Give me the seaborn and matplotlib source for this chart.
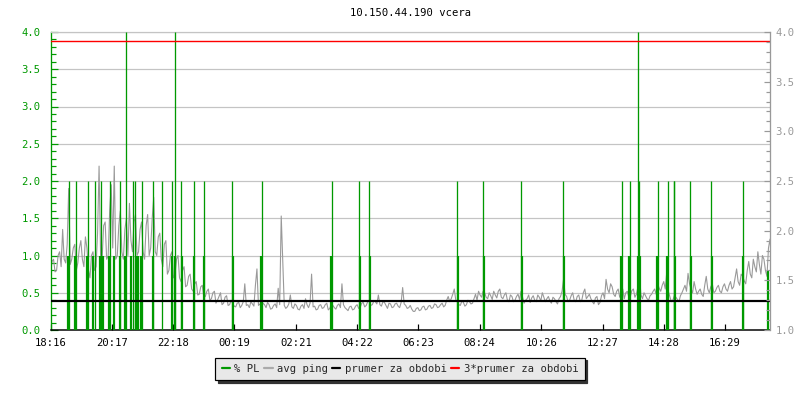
import numpy as np
import pandas as pd
import matplotlib
matplotlib.use("Agg")
import matplotlib.pyplot as plt
from matplotlib.lines import Line2D
from matplotlib.ticker import MultipleLocator
import seaborn as sns

title = "10.150.44.190 vcera"
tick_labels = ["18:16", "20:17", "22:18", "00:19", "02:21", "04:22",
               "06:23", "08:24", "10:26", "12:27", "14:28", "16:29"]
span_minutes = 1422
ping_step_minutes = 6

# avg ping read at the start of each 6-minute slot
ping = [
    0.75, 0.95, 0.80, 1.05, 1.35, 0.90, 1.90, 0.95, 1.15, 0.90,
    1.20, 0.85, 1.10, 0.70, 1.05, 0.85, 2.20, 0.95, 1.45, 1.00,
    1.95, 2.20, 1.00, 1.60, 0.95, 1.50, 1.70, 1.05, 1.55, 1.05,
    1.45, 0.95, 1.55, 1.10, 1.78, 1.00, 1.30, 0.85, 1.20, 0.80,
    1.05, 0.75, 1.00, 0.65, 0.85, 0.60, 0.75, 0.52, 0.65, 0.48,
    0.60, 0.45, 0.55, 0.42, 0.52, 0.40, 0.50, 0.36, 0.46, 0.34,
    0.36, 0.31, 0.37, 0.33, 0.62, 0.34, 0.38, 0.32, 0.82, 0.35,
    0.36, 0.30, 0.34, 0.29, 0.35, 0.56, 1.53, 0.33, 0.31, 0.47,
    0.29, 0.33, 0.27, 0.34, 0.42, 0.30, 0.75, 0.32, 0.28, 0.34,
    0.30, 0.36, 0.29, 0.33, 0.28, 0.35, 0.62, 0.30, 0.26, 0.32,
    0.28, 0.34, 0.30, 0.37, 0.33, 0.40, 0.34, 0.38, 0.47, 0.32,
    0.37, 0.29, 0.35, 0.31, 0.36, 0.30, 0.57, 0.33, 0.30,
    0.28, 0.25, 0.30, 0.27, 0.32, 0.28, 0.33, 0.30, 0.34, 0.31,
    0.36, 0.33, 0.45, 0.42, 0.55, 0.38, 0.33, 0.37, 0.34, 0.38,
    0.36, 0.48, 0.52, 0.44, 0.50, 0.42, 0.46, 0.52, 0.43, 0.55,
    0.42, 0.50, 0.38, 0.45, 0.40, 0.48, 0.52, 0.36, 0.42, 0.37,
    0.46, 0.38, 0.44, 0.50, 0.38, 0.45, 0.36, 0.42, 0.35, 0.45,
    0.68, 0.45, 0.40, 0.50, 0.38, 0.47, 0.40, 0.55, 0.45,
    0.42, 0.35, 0.45, 0.37, 0.50, 0.68, 0.50, 0.58, 0.45, 0.55,
    0.48, 0.42, 0.52, 0.45, 0.55, 0.48, 0.72, 0.42, 0.46, 0.40,
    0.48, 0.55, 0.62, 0.52, 0.65, 0.78, 0.45, 0.40, 0.44, 0.38,
    0.50, 0.60, 0.76, 0.55, 0.65, 0.48, 0.55, 0.45, 0.72, 0.50,
    0.62, 0.52, 0.60, 0.50, 0.62, 0.52, 0.65, 0.58, 0.82, 0.60,
    0.72, 0.62, 0.92, 0.70, 0.85, 1.05, 0.75, 0.95, 0.72, 1.22,
]

# avg ping read at the middle of each 6-minute slot
ping_mid = [
    0.92, 0.78, 1.00, 0.85, 0.95, 1.15, 0.88, 1.10, 0.80, 1.10,
    0.95, 1.25, 0.80, 1.00, 0.80, 1.30, 1.00, 1.40, 0.95, 1.60,
    1.10, 0.95, 1.40, 1.05, 1.35, 1.00, 1.20, 1.45, 1.00, 1.35,
    1.05, 1.40, 1.00, 1.50, 1.05, 1.25, 0.95, 1.15, 0.75, 1.00,
    0.70, 0.95, 0.70, 0.80, 0.58, 0.72, 0.55, 0.62, 0.47, 0.58,
    0.44, 0.52, 0.40, 0.50, 0.36, 0.45, 0.34, 0.44, 0.33, 0.40,
    0.32, 0.36, 0.30, 0.38, 0.33, 0.30, 0.35, 0.60, 0.33, 0.30,
    0.34, 0.37, 0.28, 0.33, 0.30, 0.34, 0.92, 0.29, 0.35, 0.31,
    0.35, 0.28, 0.32, 0.29, 0.34, 0.36, 0.31, 0.27, 0.33, 0.29,
    0.34, 0.27, 0.35, 0.30, 0.33, 0.30, 0.34, 0.28, 0.31, 0.27,
    0.32, 0.29, 0.36, 0.31, 0.38, 0.33, 0.39, 0.35, 0.34, 0.38,
    0.33, 0.36, 0.30, 0.35, 0.32, 0.37, 0.35, 0.29, 0.33,
    0.25, 0.29, 0.26, 0.31, 0.27, 0.32, 0.29, 0.35, 0.30, 0.34,
    0.31, 0.40, 0.38, 0.48, 0.40, 0.34, 0.39, 0.32, 0.40, 0.35,
    0.42, 0.40, 0.47, 0.52, 0.44, 0.50, 0.41, 0.47, 0.52, 0.44,
    0.47, 0.40, 0.47, 0.38, 0.45, 0.41, 0.44, 0.40, 0.47, 0.43,
    0.40, 0.47, 0.39, 0.44, 0.42, 0.39, 0.44, 0.38, 0.42, 0.52,
    0.48, 0.38, 0.46, 0.40, 0.45, 0.38, 0.50, 0.42, 0.48,
    0.38, 0.43, 0.34, 0.46, 0.42, 0.55, 0.62, 0.48, 0.52, 0.44,
    0.55, 0.50, 0.44, 0.53, 0.44, 0.58, 0.47, 0.50, 0.42, 0.46,
    0.52, 0.48, 0.56, 0.60, 0.55, 0.52, 0.38, 0.46, 0.41, 0.46,
    0.55, 0.52, 0.62, 0.50, 0.55, 0.52, 0.48, 0.60, 0.55, 0.58,
    0.50, 0.57, 0.52, 0.58, 0.55, 0.60, 0.55, 0.70, 0.65, 0.75,
    0.66, 0.80, 0.75, 0.95, 0.78, 0.88, 1.00, 0.80, 1.10, 0.95,
]

pl_minutes = [
    33.6, 35.6, 49.4, 51.0, 72.1, 73.5, 84.9, 88.5, 97.8, 100.3,
    102.3, 104.7, 114.9, 117.5, 124.8, 136.7, 137.9, 148.1, 149.7, 159.6,
    163.5, 167.5, 168.5, 172.8, 178.7, 180.1, 201.8, 203.4, 219.6, 239.4,
    240.6, 245.3, 246.5, 258.3, 259.3, 282.8, 284.4, 303.2, 304.2, 359.5,
    361.0, 416.7, 417.7, 555.0, 556.0, 610.3, 611.3, 630.0, 631.0, 803.8,
    804.8, 855.2, 856.2, 930.2, 931.2, 1013.2, 1014.2, 1128.3, 1129.3, 1143.5,
    1144.5, 1160.3, 1161.3, 1163.3, 1164.3, 1199.4, 1200.4, 1218.6, 1219.6, 1231.4,
    1232.8, 1234.0, 1264.0, 1265.0, 1305.5, 1306.5, 1367.7, 1368.7, 1419.0,
]
pl_values = [
    1.0, 2.0, 1.0, 2.0, 1.0, 2.0, 1.0, 2.0, 1.0, 2.0,
    1.0, 1.0, 1.0, 2.0, 1.0, 1.0, 2.0, 1.0, 4.0, 1.0,
    2.0, 2.0, 1.0, 1.0, 1.0, 2.0, 2.0, 1.0, 2.0, 1.0,
    2.0, 1.0, 4.0, 2.0, 1.0, 2.0, 1.0, 2.0, 1.0, 2.0,
    1.0, 1.0, 2.0, 1.0, 2.0, 2.0, 1.0, 2.0, 1.0, 2.0,
    1.0, 2.0, 1.0, 2.0, 1.0, 2.0, 1.0, 1.0, 2.0, 1.0,
    2.0, 1.0, 4.0, 2.0, 1.0, 1.0, 2.0, 1.0, 2.0, 2.0,
    2.0, 1.0, 2.0, 1.0, 2.0, 1.0, 1.0, 2.0, 0.8,
]

mean_value = 0.39
mean3_value = 3.88
left_ticks = [0.0, 0.5, 1.0, 1.5, 2.0, 2.5, 3.0, 3.5, 4.0]
right_ticks = [1.0, 1.5, 2.0, 2.5, 3.0, 3.5, 4.0]
legend_labels = ["% PL", "avg ping", "prumer za obdobi", "3*prumer za obdobi"]

GREEN = "#009900"
GRAY = "#999999"
GRID = "#c4c4c4"
PX = 0.72  # one pixel in points at 100 dpi
FS = 7.6

sns.set_theme(style="white")
plt.rcParams["font.family"] = ["DejaVu Sans Mono", "DejaVu Sans"]


def to_minutes(label):
    h, m = map(int, label.split(":"))
    h0, m0 = map(int, tick_labels[0].split(":"))
    return (h * 60 + m - (h0 * 60 + m0)) % 1440


tick_minutes = [to_minutes(t) for t in tick_labels]

slot = np.arange(len(ping)) * ping_step_minutes
ping_df = pd.concat([
    pd.DataFrame({"minute": slot, "ping": ping}),
    pd.DataFrame({"minute": slot + ping_step_minutes / 2, "ping": ping_mid}),
]).sort_values("minute").reset_index(drop=True)
pl_df = pd.DataFrame({"minute": pl_minutes, "pl": pl_values})

fig = plt.figure(figsize=(8, 4), dpi=100)
ax = fig.add_axes([50.5 / 800, 70 / 400, 719.5 / 800, 298 / 400])
ax.set_facecolor("white")

ax.set_ylim(0, 4)
ax.set_xlim(0, span_minutes)
for v in left_ticks[1:]:
    ax.axhline(v, color=GRID, lw=PX * 1.2, zorder=0.5, snap=True)

# avg ping
sns.lineplot(data=ping_df, x="minute", y="ping", ax=ax, color=GRAY,
             linewidth=PX * 1.1, estimator=None, sort=False, legend=False,
             zorder=2)

# packet loss spikes
thin = pl_df[pl_df["pl"] > 1.0]
thick = pl_df[pl_df["pl"] <= 1.0]
ax.vlines(thin["minute"], 0, thin["pl"], color=GREEN, lw=PX * 1.3,
          zorder=3, snap=True)
ax.vlines(thick["minute"], 0, thick["pl"], color=GREEN, lw=PX * 2.2,
          zorder=3, snap=True)

# mean lines
ax.axhline(mean_value, color="black", lw=PX * 2.2, zorder=4, snap=True)
ax.axhline(mean3_value, color="#ff0000", lw=PX * 1.4, zorder=4, snap=True)

ax.set_xlabel("")
ax.set_ylabel("")
ax.set_xticks(tick_minutes)
ax.set_xticklabels(tick_labels, fontsize=FS, color="black")
ax.tick_params(axis="x", direction="in", length=4.5, width=PX * 1.2,
               color="black", pad=6, bottom=True, top=False)
ax.set_yticks(left_ticks)
ax.set_yticklabels([f"{v:.1f}" for v in left_ticks], fontsize=FS, color=GREEN)
ax.yaxis.set_minor_locator(MultipleLocator(0.1))
ax.tick_params(axis="y", which="major", direction="in", length=5,
               width=PX * 1.2, color=GREEN, pad=7, left=True, right=False)
ax.tick_params(axis="y", which="minor", direction="in", length=3.5,
               width=PX * 1.2, color=GREEN, left=True, right=False)
ax.grid(False)

ax.spines["left"].set_color(GREEN)
ax.spines["left"].set_linewidth(PX * 1.3)
ax.spines["bottom"].set_color("black")
ax.spines["bottom"].set_linewidth(PX * 1.5)
ax.spines["top"].set_color(GRID)
ax.spines["top"].set_linewidth(PX * 1.2)
ax.spines["right"].set_visible(False)

ax2 = ax.twinx()
ax2.set_ylim(1.0, 4.0)
ax2.set_yticks(right_ticks)
ax2.set_yticklabels([f"{v:.1f}" for v in right_ticks], fontsize=FS, color=GRAY)
ax2.yaxis.set_minor_locator(MultipleLocator(0.1))
ax2.tick_params(axis="y", which="major", direction="in", length=4.5,
                width=PX * 1.2, color=GRAY, pad=4, right=True, left=False)
ax2.tick_params(axis="y", which="minor", direction="in", length=3,
                width=PX * 1.2, color=GRAY, right=True, left=False)
for s in ["left", "top", "bottom"]:
    ax2.spines[s].set_visible(False)
ax2.spines["right"].set_color(GRAY)
ax2.spines["right"].set_linewidth(PX * 1.3)
ax2.grid(False)

fig.text((50.5 + 770) / 2 / 800, 1 - 13.5 / 400, title, ha="center",
         va="center", fontsize=FS, color="black")

handles = [Line2D([], [], color=c, lw=PX * 2.2)
           for c in [GREEN, "#aaaaaa", "black", "#ff0000"]]
leg = fig.legend(handles, legend_labels, loc="center",
                 bbox_to_anchor=(0.5, 1 - 369 / 400), ncol=4, fontsize=FS,
                 frameon=True, fancybox=False,
                 shadow={"color": "#333333", "alpha": 1.0},
                 edgecolor="black", facecolor="#e8e8e8", framealpha=1,
                 handlelength=0.8, handletextpad=0.4, columnspacing=0.4,
                 borderpad=0.6, borderaxespad=0)
leg.get_frame().set_linewidth(PX * 1.2)

fig.savefig("out.png", dpi=100, facecolor="white")
